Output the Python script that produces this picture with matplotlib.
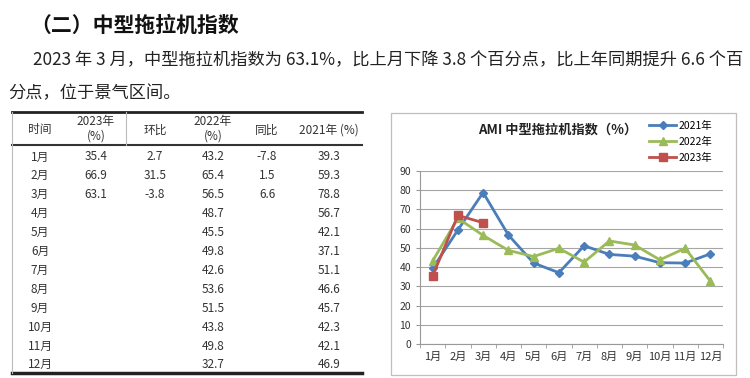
import matplotlib
matplotlib.use("Agg")
import matplotlib.pyplot as plt
from matplotlib.lines import Line2D
from matplotlib.patches import Rectangle

plt.rcParams['font.family'] = ['Noto Sans CJK SC', 'DejaVu Sans']

# 数据
months = ['1月', '2月', '3月', '4月', '5月', '6月', '7月', '8月', '9月', '10月', '11月', '12月']
v2021 = [39.3, 59.3, 78.8, 56.7, 42.1, 37.1, 51.1, 46.6, 45.7, 42.3, 42.1, 46.9]
v2022 = [43.2, 65.4, 56.5, 48.7, 45.5, 49.8, 42.6, 53.6, 51.5, 43.8, 49.8, 32.7]
v2023 = [35.4, 66.9, 63.1]
mom = ['2.7', '31.5', '-3.8']   # 环比
yoy = ['-7.8', '1.5', '6.6']    # 同比

W, H = 750, 378
fig = plt.figure(figsize=(W / 100, H / 100), dpi=100)


def fx(px):
    return px / W


def fy(py):
    return 1 - py / H


def hline(x0, x1, y, lw, color):
    fig.add_artist(Line2D([fx(x0), fx(x1)], [fy(y), fy(y)], lw=lw, color=color,
                          transform=fig.transFigure))


def vline(x, y0, y1, lw, color):
    fig.add_artist(Line2D([fx(x), fx(x)], [fy(y0), fy(y1)], lw=lw, color=color,
                          transform=fig.transFigure))


# 标题和正文
fig.text(fx(30), fy(25), '（二）中型拖拉机指数', fontsize=15, fontweight='bold',
         va='center', ha='left', color='#111111')
fig.text(fx(33), fy(60), '2023 年 3 月，中型拖拉机指数为 63.1%，比上月下降 3.8 个百分点，比上年同期提升 6.6 个百',
         fontsize=12.4, va='center', ha='left', color='#222222')
fig.text(fx(8), fy(93), '分点，位于景气区间。', fontsize=12.4, va='center', ha='left', color='#222222')

# 表格
tfs = 8.5
tc = '#333333'
hline(12, 362, 112, 2.0, '#222222')
hline(12, 362, 145, 1.5, '#333333')
hline(12, 362, 373, 2.5, '#222222')
vline(12, 112, 373, 0.8, '#bbbbbb')
vline(126, 112, 145, 0.8, '#bbbbbb')

col_x = [40, 96, 155, 213, 267, 329]
fig.text(fx(col_x[0]), fy(130), '时间', fontsize=tfs, ha='center', va='center', color=tc)
fig.text(fx(col_x[1]), fy(129), '2023年\n(%)', fontsize=tfs, ha='center', va='center', color=tc,
         linespacing=1.2)
fig.text(fx(col_x[2]), fy(130), '环比', fontsize=tfs, ha='center', va='center', color=tc)
fig.text(fx(col_x[3]), fy(129), '2022年\n(%)', fontsize=tfs, ha='center', va='center', color=tc,
         linespacing=1.2)
fig.text(fx(col_x[4]), fy(130), '同比', fontsize=tfs, ha='center', va='center', color=tc)
fig.text(fx(col_x[5]), fy(130), '2021年 (%)', fontsize=tfs, ha='center', va='center', color=tc)

row_y0, row_dy = 157, 18.9
for i, m in enumerate(months):
    y = fy(row_y0 + i * row_dy)
    fig.text(fx(col_x[0]), y, m, fontsize=tfs, ha='center', va='center', color=tc)
    if i < len(v2023):
        fig.text(fx(col_x[1]), y, f'{v2023[i]:.1f}', fontsize=tfs, ha='center', va='center', color=tc)
        fig.text(fx(col_x[2]), y, mom[i], fontsize=tfs, ha='center', va='center', color=tc)
        fig.text(fx(col_x[4]), y, yoy[i], fontsize=tfs, ha='center', va='center', color=tc)
    fig.text(fx(col_x[3]), y, f'{v2022[i]:.1f}', fontsize=tfs, ha='center', va='center', color=tc)
    fig.text(fx(col_x[5]), y, f'{v2021[i]:.1f}', fontsize=tfs, ha='center', va='center', color=tc)

# 图表外框
fig.add_artist(Rectangle((fx(391), fy(375)), fx(736) - fx(391), fy(113) - fy(375),
                         transform=fig.transFigure, fill=False, ec='#bfbfbf', lw=0.9))

ax = fig.add_axes([fx(420), fy(344), fx(723) - fx(420), fy(171) - fy(344)])
x = list(range(len(months)))
l1, = ax.plot(x, v2021, color='#4a7ebb', marker='D', markersize=4.5, lw=2, label='2021年')
l2, = ax.plot(x, v2022, color='#9bbb59', marker='^', markersize=6, lw=2, label='2022年')
l3, = ax.plot(x[:len(v2023)], v2023, color='#c0504d', marker='s', markersize=6, lw=2, label='2023年')

ax.set_xlim(-0.5, len(months) - 0.5)
ax.set_ylim(0, 90)
ax.set_yticks(range(0, 91, 10))
ax.set_xticks(x)
ax.set_xticklabels(months, fontsize=8, color='#333333')
ax.set_xticks([i - 0.5 for i in range(len(months) + 1)], minor=True)
ax.tick_params(axis='x', which='major', length=0, pad=6)
ax.tick_params(axis='x', which='minor', length=3, color='#999999')
ax.tick_params(axis='y', length=3, color='#999999', labelsize=7.5, labelcolor='#333333')
ax.grid(axis='y', color='#a6a6a6', lw=0.8)
ax.set_axisbelow(True)
for s in ['top', 'right']:
    ax.spines[s].set_visible(False)
ax.spines['left'].set_color('#999999')
ax.spines['bottom'].set_color('#999999')

fig.text(fx(558), fy(130), 'AMI 中型拖拉机指数（%）', fontsize=9.5, fontweight='bold',
         ha='center', va='center', color='#222222')
fig.legend(handles=[l1, l2, l3], loc='upper left', bbox_to_anchor=(fx(649), fy(121)),
           frameon=False, fontsize=7.5, handlelength=2.6, labelspacing=0.55, handletextpad=0.2,
           borderaxespad=0, borderpad=0)

fig.savefig('out.png', dpi=100)
